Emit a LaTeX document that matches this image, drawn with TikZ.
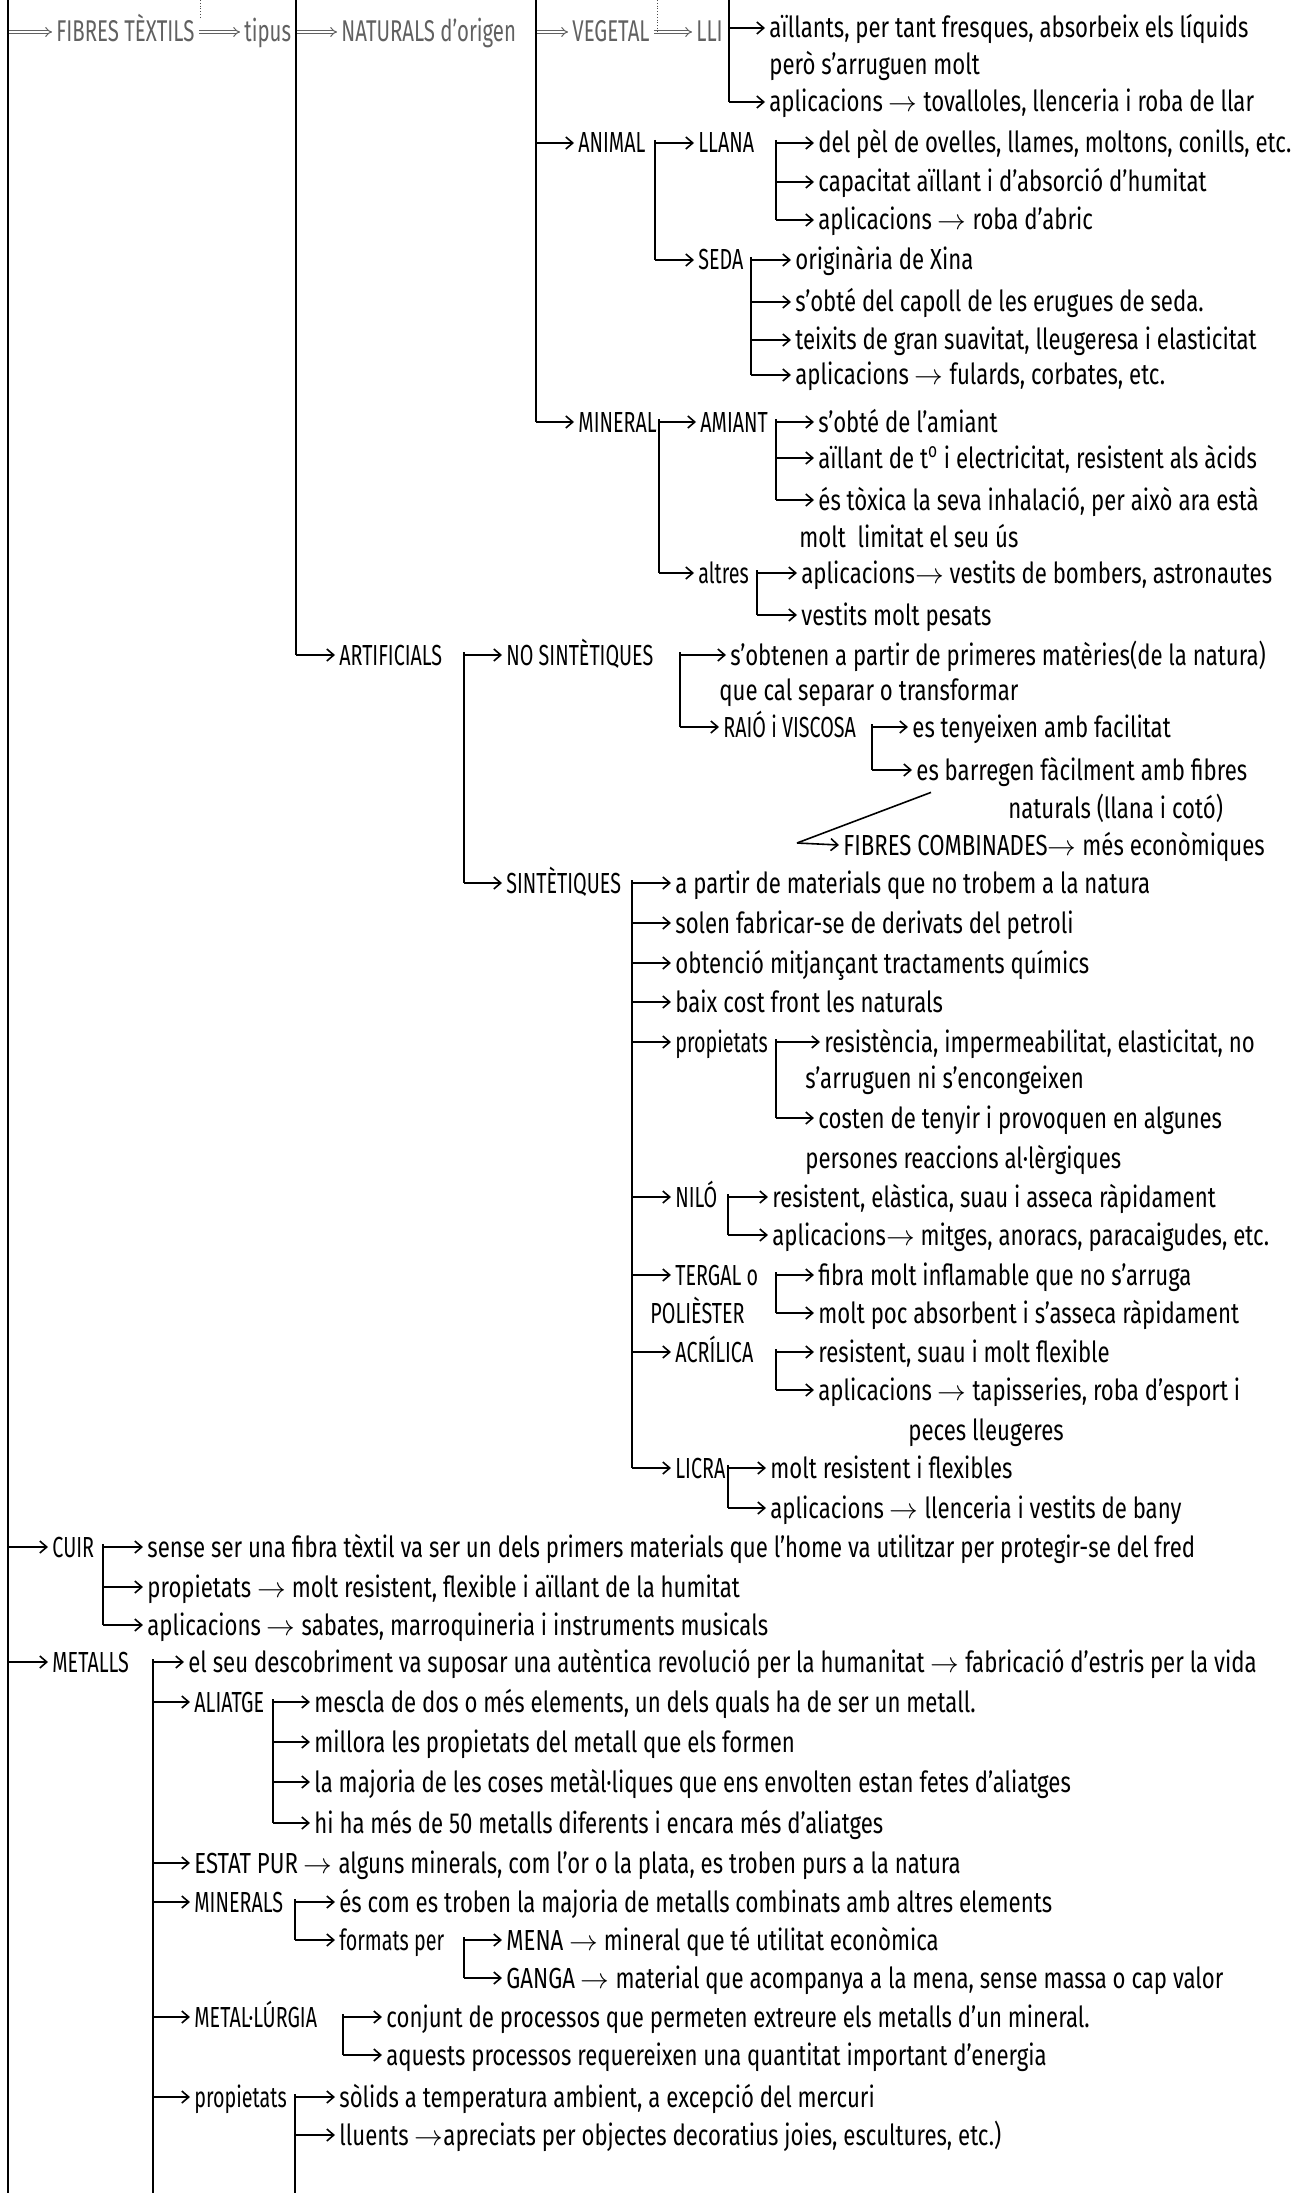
\documentclass[tikz,border=0pt]{standalone}
\usepackage{fontspec}
\setmainfont{Fira Sans}[FakeStretch=0.765]
\newfontfamily\lblfont{Fira Sans}[FakeStretch=0.68]
\usetikzlibrary{arrows.meta,calc}
\tikzset{
	txt/.style={anchor=west, inner xsep=2pt, inner ysep=0pt, text height=10pt, text depth=0pt, font=\fontsize{14.5}{16}\selectfont},
	lbl/.style={txt, font=\lblfont\fontsize{14.5}{16}\selectfont},
	ghost/.style={txt, text=black!62, font=\lblfont\fontsize{15}{17}\selectfont},
	br/.style={line width=0.8pt, -{Straight Barb[length=3.5pt,width=6pt]}},
	dbl/.style={black!62, double, double distance=1.2pt, line width=0.5pt, -{Implies}},
	bar/.style={line width=1pt},
}
\def\branch(#1)(#2){\draw[br] (#1 |- #2.west) -- (#2.west);}

\begin{document}
\begin{tikzpicture}[x=0.5pt,y=-0.5pt]
			%%%%% START %%%%%
			\useasboundingbox (0,0) rectangle (1296,2193);
			
			\coordinate (bL) at (8,0);
			\coordinate (bTip) at (296,0);
			\coordinate (bNat) at (536,0);
			\coordinate (bLli) at (729,0);
			
			% top row
			\node[ghost] (fib) at (52,32) {FIBRES TÈXTILS};
			\node[ghost] (tip) at (240,32) {tipus};
			\node[ghost] (nat) at (337,32) {NATURALS d’origen};
			\node[ghost] (veg) at (568,32) {VEGETAL};
			\node[ghost] (lli) at (692,32) {LLI};
			\draw[dbl] (bL |- fib.west) -- (fib.west);
			\draw[dbl] (fib.east) -- (tip.west);
			\draw[dbl] (bTip |- nat.west) -- (nat.west);
			\draw[dbl] (bNat |- veg.west) -- (veg.west);
			\draw[dbl] (veg.east) -- (lli.west);
			\draw[densely dotted, black!70] (200,0) -- (200,18);
			\draw[densely dotted, black!70] (657,0) -- (657,32);
			
			% LLI
			\node[txt] (a1) at (765,28) {aïllants, per tant fresques, absorbeix els líquids};
			\node[txt] (a2) at (765,65) {però s’arruguen molt};
			\node[txt] (a3) at (765,102) {aplicacions $\rightarrow$ tovalloles, llenceria i roba de llar};
			\draw[bar] (bLli) -- (bLli |- a3.west);
			\branch(bLli)(a1)
			\branch(bLli)(a3)
			
			% ANIMAL
			\node[lbl] (ani) at (574,143) {ANIMAL};
			\node[lbl] (lla) at (694,143) {LLANA};
			\node[txt] (l1) at (814,143) {del pèl de ovelles, llames, moltons, conills, etc.};
			\node[txt] (l2) at (814,182) {capacitat aïllant i d’absorció d’humitat};
			\node[txt] (l3) at (814,220) {aplicacions $\rightarrow$ roba d’abric};
			\node[lbl] (sed) at (694,260) {SEDA};
			\node[txt] (s1) at (791,260) {originària de Xina};
			\node[txt] (s2) at (791,302) {s’obté del capoll de les erugues de seda.};
			\node[txt] (s3) at (791,340) {teixits de gran suavitat, lleugeresa i elasticitat};
			\node[txt] (s4) at (791,375) {aplicacions $\rightarrow$ fulards, corbates, etc.};
			\coordinate (bAni) at (655,140);
			\coordinate (bLla) at (776,140);
			\coordinate (bSed) at (751,257);
			\branch(bNat)(ani)
			\draw[bar] (bAni) -- (bAni |- sed.west);
			\branch(bAni)(lla)
			\branch(bAni)(sed)
			\draw[bar] (bLla) -- (bLla |- l3.west);
			\branch(bLla)(l1)
			\branch(bLla)(l2)
			\branch(bLla)(l3)
			\draw[bar] (bSed) -- (bSed |- s4.west);
			\branch(bSed)(s1)
			\branch(bSed)(s2)
			\branch(bSed)(s3)
			\branch(bSed)(s4)
			
			% MINERAL
			\node[lbl] (min) at (574,422) {MINERAL};
			\node[lbl] (ami) at (696,422) {AMIANT};
			\node[txt] (m1) at (814,422) {s’obté de l’amiant};
			\node[txt] (m2) at (814,458) {aïllant de t\textsuperscript{o} i electricitat, resistent als àcids};
			\node[txt] (m3) at (814,500) {és tòxica la seva inhalació, per això ara està};
			\node[txt] (m3b) at (795,537) {molt\ \ limitat el seu ús};
			\node[lbl] (alt) at (694,573) {altres};
			\node[txt] (m4) at (797,573) {aplicacions$\rightarrow$ vestits de bombers, astronautes};
			\node[txt] (m5) at (797,615) {vestits molt pesats};
			\coordinate (bMin) at (659,419);
			\coordinate (bAmi) at (776,419);
			\coordinate (bAlt) at (757,570);
			\draw[bar] (bNat) -- (bNat |- min.west);
			\branch(bNat)(min)
			\draw[bar] (bMin) -- (bMin |- alt.west);
			\branch(bMin)(ami)
			\branch(bMin)(alt)
			\draw[bar] (bAmi) -- (bAmi |- m3.west);
			\branch(bAmi)(m1)
			\branch(bAmi)(m2)
			\branch(bAmi)(m3)
			\draw[bar] (bAlt) -- (bAlt |- m5.west);
			\branch(bAlt)(m4)
			\branch(bAlt)(m5)
			
			% ARTIFICIALS
			\node[lbl] (art) at (335,655) {ARTIFICIALS};
			\node[lbl] (nos) at (502,655) {NO SINTÈTIQUES};
			\node[txt] (n1) at (726,655) {s’obtenen a partir de primeres matèries(de la natura)};
			\node[txt] (n1b) at (715,690) {que cal separar o transformar};
			\node[lbl] (rai) at (719,727) {RAIÓ i VISCOSA};
			\node[txt] (r1) at (908,727) {es tenyeixen amb facilitat};
			\node[txt] (r2) at (912,770) {es barregen fàcilment amb fibres};
			\node[txt] (r2b) at (1004,808) {naturals (llana i cotó)};
			\node[txt] (comb) at (839,845) {FIBRES COMBINADES$\rightarrow$ més econòmiques};
			\coordinate (bArt) at (464,652);
			\coordinate (bNos) at (680,652);
			\coordinate (bRai) at (872,724);
			\coordinate (cmb) at (797,843);
			\draw[bar] (bTip) -- (bTip |- art.west);
			\branch(bTip)(art)
			\draw[bar] (bArt) -- (464,883);
			\branch(bArt)(nos)
			\draw[bar] (bNos) -- (bNos |- rai.west);
			\branch(bNos)(n1)
			\branch(bNos)(rai)
			\draw[bar] (bRai) -- (bRai |- r2.west);
			\branch(bRai)(r1)
			\branch(bRai)(r2)
			\draw[line width=0.8pt] ($(r2.south west)+(19,12)$) -- (cmb);
			\draw[br] (cmb) -- (comb.west);
			
			% SINTETIQUES
			\node[lbl] (sin) at (502,883) {SINTÈTIQUES};
			\node[txt] (t1) at (671,883) {a partir de materials que no trobem a la natura};
			\node[txt] (t2) at (671,923) {solen fabricar-se de derivats del petroli};
			\node[txt] (t3) at (671,963) {obtenció mitjançant tractaments químics};
			\node[txt] (t4) at (671,1002) {baix cost front les naturals};
			\node[lbl] (pro) at (671,1042) {propietats};
			\node[txt] (p1) at (820,1042) {resistència, impermeabilitat, elasticitat, no};
			\node[txt] (p1b) at (801,1078) {s’arruguen ni s’encongeixen};
			\node[txt] (p2) at (814,1118) {costen de tenyir i provoquen en algunes};
			\node[txt] (p2b) at (801,1158) {persones reaccions al·lèrgiques};
			\node[lbl] (nil) at (671,1197) {NILÓ};
			\node[txt] (ni1) at (768,1197) {resistent, elàstica, suau i asseca ràpidament};
			\node[txt] (ni2) at (768,1235) {aplicacions$\rightarrow$ mitges, anoracs, paracaigudes, etc.};
			\node[lbl] (ter) at (671,1275) {TERGAL o};
			\node[lbl] (pol) at (646,1313) {POLIÈSTER};
			\node[txt] (te1) at (814,1275) {fibra molt inflamable que no s’arruga};
			\node[txt] (te2) at (814,1313) {molt poc absorbent i s’asseca ràpidament};
			\node[lbl] (acr) at (671,1352) {ACRÍLICA};
			\node[txt] (ac1) at (814,1352) {resistent, suau i molt flexible};
			\node[txt] (ac2) at (814,1390) {aplicacions $\rightarrow$ tapisseries, roba d’esport i};
			\node[txt] (ac2b) at (904,1430) {peces lleugeres};
			\node[lbl] (lic) at (671,1468) {LICRA};
			\node[txt] (li1) at (766,1468) {molt resistent i flexibles};
			\node[txt] (li2) at (766,1508) {aplicacions $\rightarrow$ llenceria i vestits de bany};
			\coordinate (bSin) at (632,880);
			\coordinate (bPro) at (776,1039);
			\coordinate (bNil) at (728,1194);
			\coordinate (bTer) at (776,1272);
			\coordinate (bAcr) at (776,1349);
			\coordinate (bLic) at (728,1465);
			\branch(bArt)(sin)
			\draw[bar] (bSin) -- (bSin |- lic.west);
			\foreach \n in {t1,t2,t3,t4,pro,nil,ter,acr,lic} {\branch(bSin)(\n)}
			\draw[bar] (bPro) -- (bPro |- p2.west);
			\branch(bPro)(p1)
			\branch(bPro)(p2)
			\draw[bar] (bNil) -- (bNil |- ni2.west);
			\branch(bNil)(ni1)
			\branch(bNil)(ni2)
			\draw[bar] (bTer) -- (bTer |- te2.west);
			\branch(bTer)(te1)
			\branch(bTer)(te2)
			\draw[bar] (bAcr) -- (bAcr |- ac2.west);
			\branch(bAcr)(ac1)
			\branch(bAcr)(ac2)
			\draw[bar] (bLic) -- (bLic |- li2.west);
			\branch(bLic)(li1)
			\branch(bLic)(li2)
			
			% CUIR
			\node[lbl] (cui) at (48,1547) {CUIR};
			\node[txt] (c1) at (143,1547) {sense ser una fibra tèxtil va ser un dels primers materials que l’home va utilitzar per protegir-se del fred};
			\node[txt] (c2) at (143,1587) {propietats $\rightarrow$ molt resistent, flexible i aïllant de la humitat};
			\node[txt] (c3) at (143,1625) {aplicacions $\rightarrow$ sabates, marroquineria i instruments musicals};
			\coordinate (bCui) at (103,1544);
			\branch(bL)(cui)
			\draw[bar] (bCui) -- (bCui |- c3.west);
			\branch(bCui)(c1)
			\branch(bCui)(c2)
			\branch(bCui)(c3)
			
			% METALLS
			\node[lbl] (met) at (48,1662) {METALLS};
			\node[txt] (me1) at (184,1662) {el seu descobriment va suposar una autèntica revolució per la humanitat $\rightarrow$ fabricació d’estris per la vida};
			\node[lbl] (ali) at (190,1702) {ALIATGE};
			\node[txt] (al1) at (310,1702) {mescla de dos o més elements, un dels quals ha de ser un metall.};
			\node[txt] (al2) at (310,1742) {millora les propietats del metall que els formen};
			\node[txt] (al3) at (310,1782) {la majoria de les coses metàl·liques que ens envolten estan fetes d’aliatges};
			\node[txt] (al4) at (310,1823) {hi ha més de 50 metalls diferents i encara més d’aliatges};
			\node[txt] (est) at (190,1863) {ESTAT PUR $\rightarrow$ alguns minerals, com l’or o la plata, es troben purs a la natura};
			\node[lbl] (mns) at (190,1902) {MINERALS};
			\node[txt] (mn1) at (335,1902) {és com es troben la majoria de metalls combinats amb altres elements};
			\node[lbl] (fmt) at (335,1940) {formats per};
			\node[txt] (mena) at (502,1940) {MENA $\rightarrow$ mineral que té utilitat econòmica};
			\node[txt] (gan) at (502,1978) {GANGA $\rightarrow$ material que acompanya a la mena, sense massa o cap valor};
			\node[lbl] (mtl) at (190,2017) {METAL·LÚRGIA};
			\node[txt] (mt1) at (382,2017) {conjunt de processos que permeten extreure els metalls d’un mineral.};
			\node[txt] (mt2) at (382,2055) {aquests processos requereixen una quantitat important d’energia};
			\node[lbl] (prm) at (190,2097) {propietats};
			\node[txt] (pr1) at (335,2097) {sòlids a temperatura ambient, a excepció del mercuri};
			\node[txt] (pr2) at (335,2135) {lluents $\rightarrow$apreciats per objectes decoratius joies, escultures, etc.)};
			\coordinate (bMet) at (153,1659);
			\coordinate (bAli) at (273,1699);
			\coordinate (bMns) at (295,1899);
			\coordinate (bFmt) at (464,1937);
			\coordinate (bMtl) at (343,2014);
			\coordinate (bPrm) at (295,2094);
			\branch(bL)(met)
			\draw[bar] (bMet) -- (153,2193);
			\foreach \n in {me1,ali,est,mns,mtl,prm} {\branch(bMet)(\n)}
			\draw[bar] (bAli) -- (bAli |- al4.west);
			\foreach \n in {al1,al2,al3,al4} {\branch(bAli)(\n)}
			\draw[bar] (bMns) -- (bMns |- fmt.west);
			\branch(bMns)(mn1)
			\branch(bMns)(fmt)
			\draw[bar] (bFmt) -- (bFmt |- gan.west);
			\branch(bFmt)(mena)
			\branch(bFmt)(gan)
			\draw[bar] (bMtl) -- (bMtl |- mt2.west);
			\branch(bMtl)(mt1)
			\branch(bMtl)(mt2)
			\draw[bar] (bPrm) -- (295,2193);
			\branch(bPrm)(pr1)
			\branch(bPrm)(pr2)
			
			\draw[bar] (bL) -- (8,2193);
			%%%%% END %%%%%
\end{tikzpicture}
\end{document}
